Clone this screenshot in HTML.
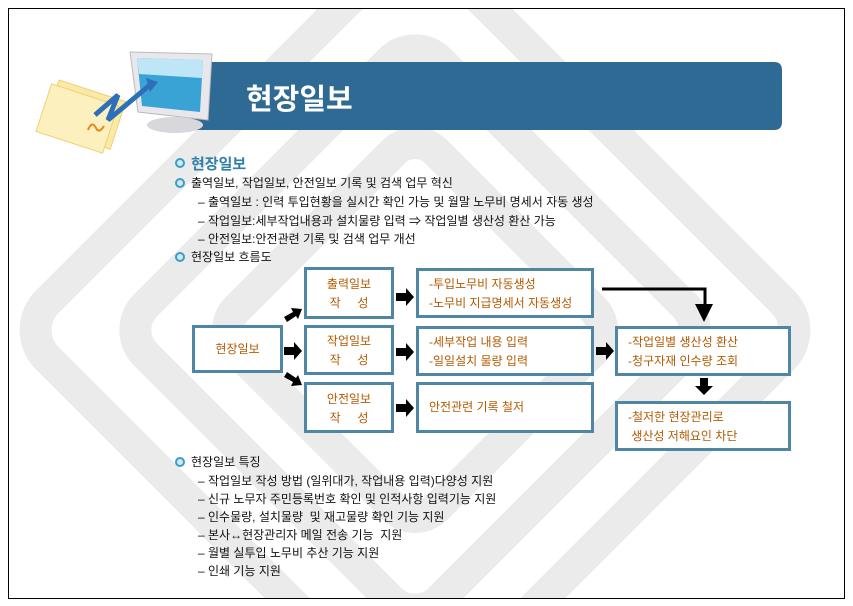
<!DOCTYPE html>
<html><head><meta charset="utf-8"><style>
html,body{margin:0;width:853px;height:606px;overflow:hidden;}
body{position:relative;background:#fff;font-family:"Liberation Sans","Noto Sans CJK KR",sans-serif;}
.a{position:absolute;white-space:nowrap;}
.t{font-size:12px;color:#111;line-height:14px;}
.b{position:absolute;width:6px;height:6px;border-radius:50%;background:#cfeaf5;border:2px solid #3d9cc8;}
.bx{position:absolute;border:3px solid #4f86a4;background:#fff;box-sizing:border-box;color:#b35a00;font-size:12px;line-height:19px;}
</style></head><body>
<svg class="a" style="left:0;top:0;display:block" width="853" height="606">
<defs><clipPath id="c"><rect x="9" y="9" width="835" height="589"/></clipPath></defs>
<g clip-path="url(#c)">
<g fill="none" stroke="#ebebeb" stroke-width="32" transform="rotate(45 415 330)">
<rect x="135" y="50" width="560" height="560" rx="40"/>
<rect x="207" y="122" width="416" height="416" rx="35"/>
<rect x="274" y="189" width="282" height="282" rx="30"/>
</g>
</g>
<rect x="8.5" y="8.5" width="836" height="590" fill="none" stroke="#000" stroke-width="1"/>
<path d="M190 62 H774 Q782 62 782 70 V122 Q782 130 774 130 H190 Z" fill="#2f6a94"/>
<g transform="rotate(18 85 120)"><rect x="48" y="90" width="70" height="50" fill="#fbe9a8" stroke="#f0d070"/><rect x="42" y="96" width="70" height="50" fill="#fdf0bf" stroke="#f0d070"/></g>
<path d="M88 130 q4 -10 8 -2 q3 6 8 -2" stroke="#e8861c" stroke-width="2" fill="none"/>
<polygon points="130,52 212,54 208,120 138,112" fill="#e8e8ec" stroke="#bbb"/>
<polygon points="137,58 203,60 200,112 142,106" fill="#3aa3d6"/>
<polygon points="137,58 203,60 202,78 139,74" fill="#bfe6f7"/>
<ellipse cx="175" cy="125" rx="28" ry="8" fill="#d8d8dc"/>
<polyline points="95,115 118,95 108,120 150,85" stroke="#2d6fb8" stroke-width="5" fill="none"/>
<polygon points="146,78 158,82 150,92" fill="#2d6fb8"/>
<g fill="#000">
<polygon points="284,347 294,347 294,342 302,351 294,360 294,355 284,355"/>
<polygon points="284,317 293,312 291,308 302,309 298,319 296,316 287,322"/>
<polygon points="284,377 293,382 291,386 302,385 298,375 296,378 287,372"/>
<polygon points="396,293 406,293 406,288 414,297 406,306 406,301 396,301"/>
<polygon points="396,348 406,348 406,343 414,352 406,361 406,356 396,356"/>
<polygon points="396,404 406,404 406,399 414,408 406,417 406,412 396,412"/>
<polygon points="596,347 606,347 606,342 614,351 606,360 606,355 596,355"/>
<polygon points="700,378 708,378 708,386 713,386 704,395 695,386 700,386"/>
<polygon points="700,304 695,304 704,322 713,304 708,304"/>
</g>
<polyline points="602,289 705,289 705,306" stroke="#000" stroke-width="3" fill="none"/>
</svg>
<div class="a" style="left:246px;top:76px;color:#fff;font-size:29px;font-weight:bold;">현장일보</div>
<div class="b" style="left:175px;top:158px"></div>
<div class="a" style="left:191px;top:153px;font-size:15px;color:#2f7fa8;font-weight:bold;">현장일보</div>
<div class="b" style="left:175px;top:178px"></div>
<div class="a t" style="left:191px;top:176px">출역일보, 작업일보, 안전일보 기록 및 검색 업무 혁신</div>
<div class="a t" style="left:198px;top:195px">– 출역일보 : 인력 투입현황을 실시간 확인 가능 및 월말 노무비 명세서 자동 생성</div>
<div class="a t" style="left:198px;top:214px">– 작업일보:세부작업내용과 설치물량 입력 ⇒ 작업일별 생산성 환산 가능</div>
<div class="a t" style="left:198px;top:232px">– 안전일보:안전관련 기록 및 검색 업무 개선</div>
<div class="b" style="left:175px;top:252px"></div>
<div class="a t" style="left:191px;top:250px">현장일보 흐름도</div>
<div class="bx" style="left:192px;top:325px;width:91px;height:48px;text-align:center;padding-top:12px">현장일보</div>
<div class="bx" style="left:304px;top:267px;width:90px;height:52px;text-align:center;padding-top:5px">출력일보<br>작 &nbsp; &nbsp; 성</div>
<div class="bx" style="left:304px;top:325px;width:90px;height:50px;text-align:center;padding-top:4px">작업일보<br>작 &nbsp; &nbsp; 성</div>
<div class="bx" style="left:304px;top:382px;width:90px;height:51px;text-align:center;padding-top:5px">안전일보<br>작 &nbsp; &nbsp; 성</div>
<div class="bx" style="left:416px;top:268px;width:178px;height:50px;padding:4px 0 0 10px">-투입노무비 자동생성<br>-노무비 지급명세서 자동생성</div>
<div class="bx" style="left:416px;top:326px;width:178px;height:50px;padding:4px 0 0 10px">-세부작업 내용 입력<br>-일일설치 물량 입력</div>
<div class="bx" style="left:416px;top:382px;width:178px;height:51px;padding:13px 0 0 10px">안전관련 기록 철저</div>
<div class="bx" style="left:615px;top:326px;width:176px;height:50px;padding:4px 0 0 10px">-작업일별 생산성 환산<br>-청구자재 인수량 조회</div>
<div class="bx" style="left:615px;top:401px;width:176px;height:50px;padding:4px 0 0 10px">-철저한 현장관리로<br>&nbsp;생산성 저해요인 차단</div>
<div class="b" style="left:175px;top:457px"></div>
<div class="a t" style="left:191px;top:455px">현장일보 특징</div>
<div class="a t" style="left:198px;top:474px">– 작업일보 작성 방법 (일위대가, 작업내용 입력)다양성 지원</div>
<div class="a t" style="left:198px;top:492px">– 신규 노무자 주민등록번호 확인 및 인적사항 입력기능 지원</div>
<div class="a t" style="left:198px;top:510px">– 인수물량, 설치물량 &nbsp;및 재고물량 확인 기능 지원</div>
<div class="a t" style="left:198px;top:528px">– 본사↔현장관리자 메일 전송 기능 &nbsp;지원</div>
<div class="a t" style="left:198px;top:546px">– 월별 실투입 노무비 추산 기능 지원</div>
<div class="a t" style="left:198px;top:564px">– 인쇄 기능 지원</div>
</body></html>
